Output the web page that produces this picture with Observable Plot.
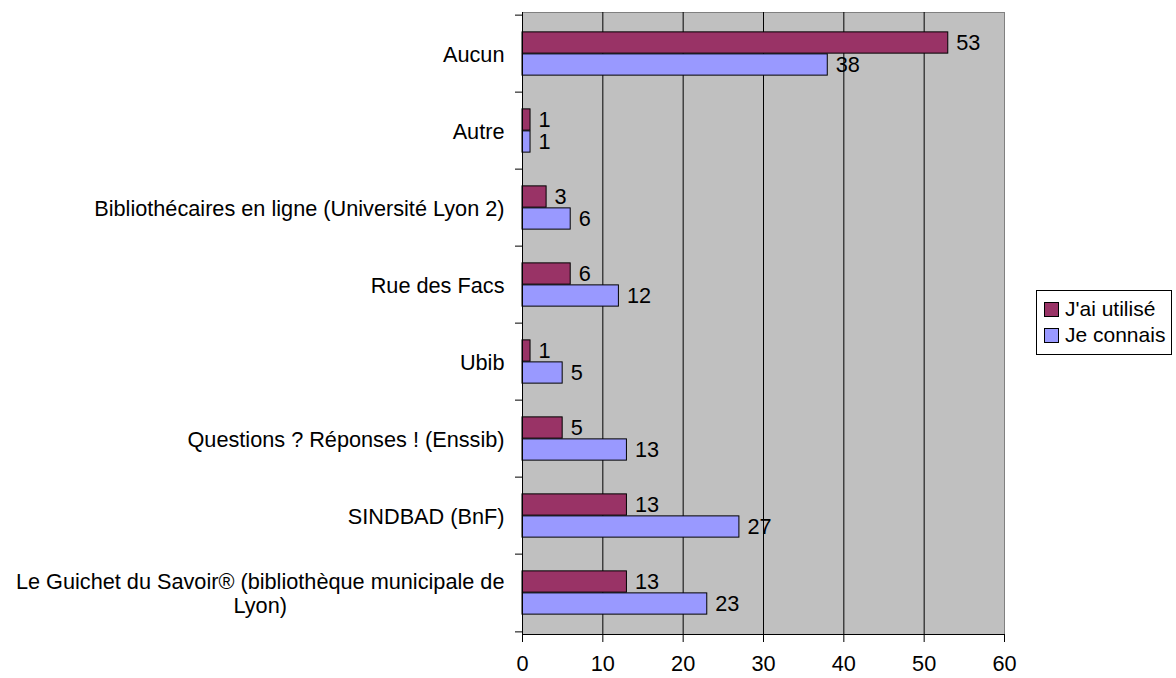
<!DOCTYPE html>
<html>
<head>
<meta charset="utf-8">
<script src="https://cdn.jsdelivr.net/npm/d3@7"></script>
<script src="https://cdn.jsdelivr.net/npm/@observablehq/plot@0.6"></script>
<style>
  html, body { margin: 0; padding: 0; background: #fff; }
  #wrap { position: relative; width: 1176px; height: 678px; font-family: "Liberation Sans", Arial, sans-serif; }
  #legend { position: absolute; left: 1036px; top: 290px; width: 136px; height: 65px; border: 1px solid #000; background: #fff; box-sizing: border-box; font-size: 21px; color: #000; }
  .item { position: absolute; left: 7px; height: 26px; line-height: 26px; white-space: nowrap; }
  .sw { display: inline-block; width: 13px; height: 13px; border: 1px solid #000; margin-right: 6px; vertical-align: -1px; }
</style>
</head>
<body>
<div id="wrap"></div>
<script>
const categories = [
  "Aucun",
  "Autre",
  "Bibliothécaires en ligne (Université Lyon 2)",
  "Rue des Facs",
  "Ubib",
  "Questions ? Réponses ! (Enssib)",
  "SINDBAD (BnF)",
  "Le Guichet du Savoir® (bibliothèque municipale de Lyon)"
];
const series = ["J'ai utilisé", "Je connais"];
const utilise = [53, 1, 3, 6, 1, 5, 13, 13];
const connais = [38, 1, 6, 12, 5, 13, 27, 23];
const xTicks = [0, 10, 20, 30, 40, 50, 60];
const colors = ["#993366", "#9999FF"];
const wrapped = {"Le Guichet du Savoir® (bibliothèque municipale de Lyon)": "Le Guichet du Savoir® (bibliothèque municipale de\nLyon)"};

const dataU = categories.map((c, i) => ({cat: c, value: utilise[i]}));
const dataC = categories.map((c, i) => ({cat: c, value: connais[i]}));

const W = 1176, H = 678, mT = 12, mB = 44, mL = 522, mR = 172;
const step = (H - mT - mB) / categories.length;
const barH = 22;
const half = step / 2;

const chart = Plot.plot({
  width: W, height: H,
  marginTop: mT, marginBottom: mB, marginLeft: mL, marginRight: mR,
  style: {fontFamily: "'Liberation Sans', Arial, sans-serif", fontSize: "21.7px", color: "#000", background: "#fff"},
  x: {domain: [0, 60], ticks: xTicks, label: null},
  y: {type: "band", domain: categories, padding: 0, label: null},
  marks: [
    Plot.frame({fill: "#C0C0C0", stroke: "#808080"}),
    Plot.gridX(xTicks.slice(1, -1), {stroke: "#000", strokeOpacity: 1}),
    Plot.barX(dataU, {x: "value", y: "cat", fill: colors[0], stroke: "#000", strokeWidth: 1, insetTop: half - barH, insetBottom: half}),
    Plot.barX(dataC, {x: "value", y: "cat", fill: colors[1], stroke: "#000", strokeWidth: 1, insetTop: half, insetBottom: half - barH}),
    Plot.text(dataU, {x: "value", y: "cat", text: d => String(d.value), dx: 8, dy: -barH / 2, textAnchor: "start", fill: "#000"}),
    Plot.text(dataC, {x: "value", y: "cat", text: d => String(d.value), dx: 8, dy: barH / 2, textAnchor: "start", fill: "#000"}),
    Plot.ruleX([0], {stroke: "#000"}),
    Plot.frame({anchor: "bottom", stroke: "#000"}),
    Plot.axisX({ticks: xTicks, tickSize: 8, tickPadding: 13, stroke: "#000", label: null}),
    Plot.axisY({tickSize: 0, tickPadding: 18, tickFormat: d => wrapped[d] || d, label: null, lineHeight: 1.12}),
    Plot.axisY({tickSize: 7, fill: "none", dy: -half, label: null}),
    Plot.axisY([categories[categories.length - 1]], {tickSize: 7, fill: "none", dy: half, label: null})
  ]
});

const wrap = document.getElementById("wrap");
wrap.appendChild(chart);

// center the wrapped label lines on the first line
chart.querySelectorAll("text").forEach(t => {
  const spans = t.querySelectorAll("tspan");
  if (spans.length === 2) {
    const w = spans[0].getComputedTextLength();
    t.setAttribute("text-anchor", "middle");
    spans.forEach(s => s.setAttribute("x", -w / 2));
  }
});

const legend = document.createElement("div");
legend.id = "legend";
series.forEach((s, i) => {
  const it = document.createElement("div");
  it.className = "item";
  it.style.top = (5 + i * 26) + "px";
  const sw = document.createElement("span");
  sw.className = "sw";
  sw.style.background = colors[i];
  it.appendChild(sw);
  it.appendChild(document.createTextNode(s));
  legend.appendChild(it);
});
wrap.appendChild(legend);
</script>
</body>
</html>
